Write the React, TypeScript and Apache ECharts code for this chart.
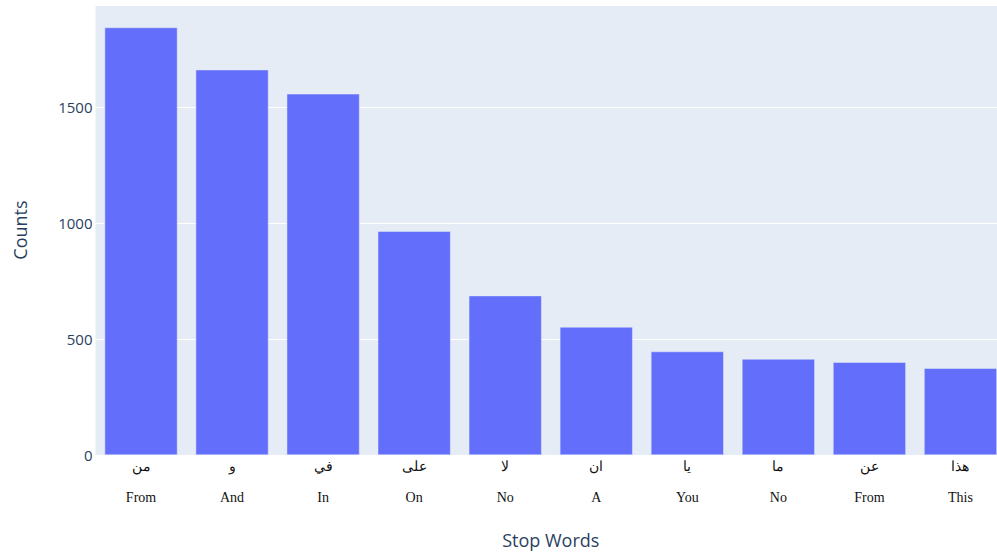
import React, { useEffect, useRef } from "react";
import * as echarts from "echarts";

const arabicWords = ["من", "و", "في", "على", "لا", "ان", "يا", "ما", "عن", "هذا"];
const englishWords = ["From", "And", "In", "On", "No", "A", "You", "No", "From", "This"];
const counts = [1843, 1661, 1557, 965, 687, 552, 446, 414, 400, 374];
const yMax = 1940;
const yInterval = 500;

export default function App() {
  const ref = useRef<HTMLDivElement>(null);
  useEffect(() => {
    if (!ref.current) return;
    const chart = echarts.init(ref.current, undefined, { renderer: "svg" });
    const categories = arabicWords.map((a, i) => `${a}\n\n${englishWords[i]}`);
    chart.setOption({
      animation: false,
      backgroundColor: "#ffffff",
      grid: {
        left: 95.5,
        right: 0,
        top: 5,
        bottom: 101,
        show: true,
        backgroundColor: "#E5ECF6",
        borderWidth: 0,
      },
      xAxis: {
        type: "category",
        data: categories,
        name: "Stop Words",
        nameLocation: "middle",
        nameGap: 76,
        nameTextStyle: { fontFamily: "Open Sans", fontSize: 18, color: "#2a3f5f" },
        axisLine: { show: false },
        axisTick: { show: false },
        axisLabel: {
          interval: 0,
          margin: 4,
          fontFamily: "Liberation Serif",
          fontSize: 14,
          lineHeight: 15.5,
          color: "#111111",
        },
      },
      yAxis: {
        type: "value",
        min: 0,
        max: yMax,
        interval: yInterval,
        name: "Counts",
        nameLocation: "middle",
        nameGap: 67,
        nameTextStyle: { fontFamily: "Open Sans", fontSize: 18, color: "#2a3f5f" },
        axisLine: { show: false },
        axisTick: { show: true, length: 3, lineStyle: { color: "#ffffff" } },
        axisLabel: {
          margin: 3,
          fontFamily: "Open Sans",
          fontSize: 15,
          color: "#2a3f5f",
          showMaxLabel: false,
          formatter: (v: number) => (v % yInterval === 0 ? String(v) : ""),
        },
        splitLine: { lineStyle: { color: "#ffffff", width: 1 } },
      },
      series: [
        {
          type: "bar",
          data: counts,
          barCategoryGap: "20%",
          itemStyle: { color: "#636efa", borderColor: "#E5ECF6", borderWidth: 0.5 },
        },
      ],
    });
    return () => chart.dispose();
  }, []);
  return (
    <div style={{ position: "absolute", left: 0, top: 0, width: 997, height: 556, overflow: "hidden" }}>
      <div ref={ref} style={{ width: 1006, height: 556 }} />
    </div>
  );
}
